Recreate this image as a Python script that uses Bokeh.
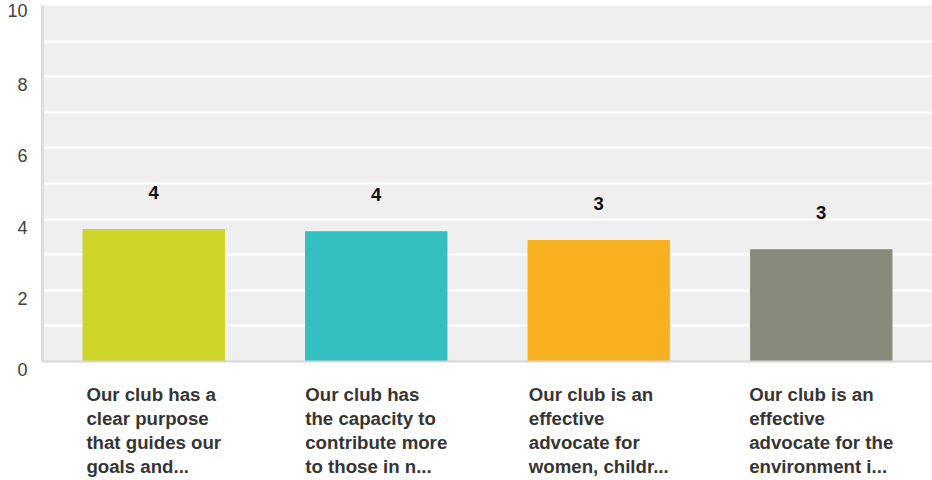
from bokeh.plotting import figure
from bokeh.layouts import column
from bokeh.models import ColumnDataSource, LabelSet, Range1d, FixedTicker
from bokeh.core.properties import value
from bokeh.embed import file_html
from bokeh.resources import INLINE

# ---- data ----
categories = [
    "Our club has a clear purpose that guides our goals and...",
    "Our club has the capacity to contribute more to those in n...",
    "Our club is an effective advocate for women, childr...",
    "Our club is an effective advocate for the environment i...",
]
category_lines = [
    ["Our club has a", "clear purpose", "that guides our", "goals and..."],
    ["Our club has", "the capacity to", "contribute more", "to those in n..."],
    ["Our club is an", "effective", "advocate for", "women, childr..."],
    ["Our club is an", "effective", "advocate for the", "environment i..."],
]
values = [3.72, 3.66, 3.41, 3.15]
value_labels = ["4", "4", "3", "3"]
bar_colors = ["#CFD428", "#33BEC0", "#F7B01F", "#8A8A7A"]
y_ticks = [0, 2, 4, 6, 8, 10]
grid_ticks = [0, 1, 2, 3, 4, 5, 6, 7, 8, 9]

FONT = "Liberation Sans"
SLOT = 100            # axis units per category
BAR_WIDTH = 0.64      # fraction of a slot
n = len(categories)

source = ColumnDataSource(dict(
    x=[SLOT * i + SLOT // 2 for i in range(n)],
    cat=categories,
    wrapped=["\n".join(lines) for lines in category_lines],
    val=values,
    color=bar_colors,
    vlabel=value_labels,
))

x_range = Range1d(0, SLOT * n)

# ---------------- main chart ----------------
p = figure(
    x_range=x_range,
    y_range=Range1d(0, 10),
    width=932, height=380,
    output_backend="svg", toolbar_location=None,
    min_border_left=42, min_border_right=0,
    min_border_top=5, min_border_bottom=19,
)
p.background_fill_color = "#EFEFEF"
p.border_fill_color = "white"
p.outline_line_color = None

p.vbar(x="x", top="val", width=SLOT * BAR_WIDTH, color="color", source=source, line_color=None)

p.add_layout(LabelSet(
    x="x", y="val", text="vlabel", source=source,
    y_offset=37, text_align="center", text_baseline="middle",
    text_font=value(FONT), text_font_style="bold", text_font_size="18.5px",
    text_color="#111111",
))

xa = p.xaxis[0]
xa.ticker = FixedTicker(ticks=[])
xa.axis_line_color = "#D6D6D6"
xa.axis_line_width = 2
xa.major_tick_line_color = None
xa.minor_tick_line_color = None
xa.major_label_standoff = 0

ya = p.yaxis[0]
ya.ticker = FixedTicker(ticks=y_ticks)
ya.major_label_overrides = {t: ("\n" + str(t) if t != y_ticks[-1] else str(t)) for t in y_ticks}
ya.axis_line_color = "#DCDCDC"
ya.axis_line_width = 3
ya.major_tick_line_color = None
ya.minor_tick_line_color = None
ya.major_label_standoff = 9
ya.major_label_text_font = FONT
ya.major_label_text_font_size = "18px"
ya.major_label_text_color = "#404040"
ya.major_label_text_line_height = 0.85

p.xgrid.grid_line_color = None
p.ygrid.ticker = FixedTicker(ticks=grid_ticks)
p.ygrid.grid_line_color = "white"
p.ygrid.grid_line_width = 2

# ---------------- category labels strip (shares the x scale) ----------------
p2 = figure(
    x_range=x_range,
    y_range=Range1d(0, 1),
    width=932, height=100,
    output_backend="svg", toolbar_location=None,
    min_border_left=42, min_border_right=0,
    min_border_top=0, min_border_bottom=0,
)
p2.axis.visible = False
p2.grid.visible = False
p2.outline_line_color = None
p2.background_fill_color = "white"
p2.text(
    x="x", y=1, text="wrapped", source=source,
    y_offset=3, anchor="top_center", text_align="left", text_baseline="top",
    text_font=value(FONT), text_font_style="bold", text_font_size="18.67px",
    text_color="#353535", text_line_height=1.15,
)

layout = column(p, p2, spacing=0)
open("out.html", "w").write(file_html(layout, INLINE))
